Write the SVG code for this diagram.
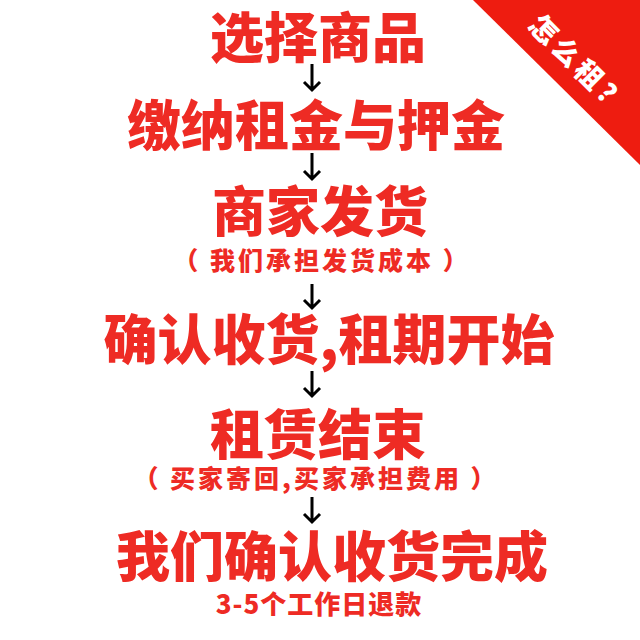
<svg xmlns="http://www.w3.org/2000/svg" width="640" height="640" viewBox="0 0 640 640">
<defs>
<style>
.t{font-family:"Noto Sans CJK SC","Noto Sans",sans-serif;font-weight:900;fill:#ee2b24;text-anchor:middle}
.m{font-size:54px}
.s{font-size:25px;letter-spacing:3px}
.c{font-family:"Noto Sans CJK SC","Noto Sans",sans-serif;font-weight:900;fill:#fff;font-size:28px;text-anchor:middle}
.a{stroke:#000;stroke-width:3;fill:none;stroke-linecap:butt}
</style>
</defs>
<rect width="640" height="640" fill="#fff"/>
<g id="corner">
<polygon points="473,0 640,0 640,165" fill="#ee1c10"/>
<text class="c" transform="translate(572,72) rotate(45)" letter-spacing="4">怎么租？</text>
</g>
<g id="step1"><text class="t m" x="318" y="58">选择商品</text></g>
<g id="step2"><text class="t m" x="316" y="146">缴纳租金与押金</text></g>
<g id="step3"><text class="t m" x="320" y="232">商家发货</text><text class="t s" x="322" y="270">（ 我们承担发货成本 ）</text></g>
<g id="step4"><text class="t m" x="329" y="360">确认收货,租期开始</text></g>
<g id="step5"><text class="t m" x="318" y="455">租赁结束</text><text class="t s" x="316" y="488">（ 买家寄回,买家承担费用 ）</text></g>
<g id="step6"><text class="t m" x="332" y="577">我们确认收货完成</text><text class="t" style="font-size:26px;letter-spacing:1px" x="319" y="614">3-5个工作日退款</text></g>
<g id="connectors">
<path class="a" d="M312,64V90M304,82L312,90L320,82"/>
<path class="a" d="M312,153V179M304,171L312,179L320,171"/>
<path class="a" d="M312,284V308M304,300L312,308L320,300"/>
<path class="a" d="M312,371V396M304,388L312,396L320,388"/>
<path class="a" d="M312,497V522M304,514L312,522L320,514"/>
</g>
</svg>
